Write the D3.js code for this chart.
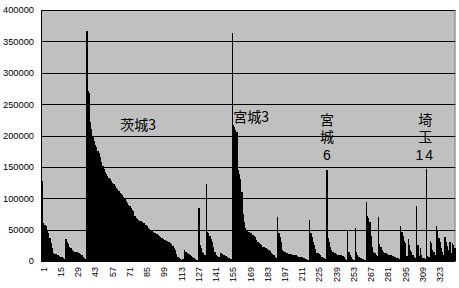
<!DOCTYPE html>
<html>
<head>
<meta charset="utf-8">
<script src="https://cdn.jsdelivr.net/npm/d3@7"></script>
<style>
  body { margin: 0; background: #fff; }
  svg { display: block; }
</style>
</head>
<body>
<div id="chart"></div>
<script>
// 1: DATA
const values = [
  127000, 61000, 58000, 55000, 50000, 45000, 36000, 28000, 21000, 13000, 11000, 10500, 10000, 9000, 8000, 7000, 6000, 5000, 3000,
  35000, 31000, 27000, 23000, 20000, 18000, 16000, 15000, 14500, 14000, 13000, 12000, 11000, 9000, 7000, 5000, 2500,
  367000,
  271000, 268000, 222000, 210000, 200000, 192000, 185000, 181000, 176000, 172000,
  165000, 158000, 152000, 147000, 142000, 139000, 136000, 133000, 130000, 128000,
  125000, 122000, 119000, 116000, 114000, 111000, 109000, 107000, 105000, 102000,
  99000, 96000, 93000, 90000, 87000, 84000, 82000, 79000, 72000, 69000,
  67000, 66000, 64000, 63000, 62000, 61000, 60000, 57000, 55000, 53000,
  51000, 49000, 48000, 46000, 45000, 44000, 43000, 42000, 40000, 38000,
  37000, 35000, 34000, 33000, 32000, 31000, 30000, 29000, 27000, 24000,
  20000, 17000, 11000, 6000, 4000, 3000, 2000,
  3000, 18000, 15000, 14000, 13000, 11000, 10000, 8000, 6000, 4000, 3000, 2000, 1500,
  85000,
  25000, 20000, 15000, 12000, 10000,
  123000,
  46000, 44000, 40000, 35000, 30000, 22000, 14000, 10000, 8000, 7000, 6000, 13000, 11000, 10000, 9000, 8000, 6000, 5000, 4000, 3000,
  363000,
  216000, 214000, 208000, 205000, 145000, 138000, 130000, 110000, 75000, 62000,
  52000, 48000, 47000, 46000, 45000, 44000, 42000, 40000, 38000, 34000,
  30000, 29000, 27000, 25000, 23000, 22000, 21000, 20000, 19000, 18000,
  16000, 13000, 11000, 9000, 7000, 5000,
  70000,
  45000, 38000, 30000, 18000, 16000, 14000, 13000, 12000, 11500, 11000, 10500, 10000, 10000, 9000, 9000, 8000, 7000, 7000, 6000, 6000, 5000, 4000, 3000, 2000, 1500,
  65000,
  45000, 38000, 30000, 25000, 19000, 13000, 12000, 11000, 9000, 7000, 5000, 4000, 3000,
  145000,
  37000, 30000, 22000, 17000, 15000, 13000, 12000, 11000, 10000, 10000, 9000, 9000, 8000, 6000, 3000, 2000,
  49000,
  15000, 10000, 6000, 3000, 2000,
  52000,
  15000, 10000, 7000, 5000, 4000, 3000, 3000, 2000,
  94000,
  72000, 68000, 62000, 40000, 22000, 15000, 12000, 10000, 8000,
  70000,
  27000, 22000, 17000, 14000, 13000, 12000, 11000, 10000, 9000, 9000, 8000, 8000, 7000, 6000, 5000, 4000, 3000,
  55000,
  47000, 40000, 32000, 28000, 8000, 35000, 25000, 18000, 14000, 10000, 7000, 4000,
  88000,
  25000, 8000, 20000, 10000, 5000, 4000, 3000,
  147000,
  8000, 6000, 32000, 28000, 18000, 15000, 10000, 56000, 50000, 37000, 30000, 20000, 14000, 10000, 38000, 30000, 24000, 18000, 30000, 12000, 28000, 26000, 20000
];
const categories = values.map((v, i) => i + 1);
const xTickLabels = categories.filter(c => (c - 1) % 14 === 0);
const yTicks = [0, 50000, 100000, 150000, 200000, 250000, 300000, 350000, 400000];

// annotations written across, placed at a category and a value (baseline)
const notes = [
  { text: "茨城3", cat: 64, val: 209000 },
  { text: "宮城3", cat: 156, val: 221000 }
];
// annotations written down: kanji column, then the number below it
const vNotes = [
  { kanji: "宮城", num: "6", cat: 232, val: 237000 },
  { kanji: "埼玉", num: "14", cat: 312, val: 237000 }
];

// 2: SIZES
const W = 459, H = 288;
const plotLeft = 42, plotRight = 455.5, plotTop = 10, plotBottom = 261;

const svg = d3.select("#chart").append("svg")
  .attr("width", W).attr("height", H);

// 3: SCALES
const x = d3.scaleBand().domain(categories).range([plotLeft, plotRight]).padding(0);
const y = d3.scaleLinear().domain([0, 400000]).range([plotBottom, plotTop]);

// plot area
svg.append("rect")
  .attr("x", plotLeft).attr("y", plotTop)
  .attr("width", plotRight - plotLeft).attr("height", plotBottom - plotTop)
  .attr("fill", "#c0c0c0");

// gridlines
svg.append("g").selectAll("line")
  .data(yTicks.slice(1))
  .enter().append("line")
  .attr("x1", plotLeft).attr("x2", plotRight)
  .attr("y1", d => Math.round(y(d)) + 0.5).attr("y2", d => Math.round(y(d)) + 0.5)
  .attr("stroke", "#000").attr("stroke-width", 1);

// right border
svg.append("line")
  .attr("x1", plotRight - 0.5).attr("x2", plotRight - 0.5)
  .attr("y1", plotTop).attr("y2", plotBottom)
  .attr("stroke", "#808080");

// 4: BARS
svg.append("g").selectAll("rect")
  .data(values)
  .enter().append("rect")
  .attr("x", (d, i) => x(categories[i]))
  .attr("width", x.bandwidth())
  .attr("y", d => y(d))
  .attr("height", d => plotBottom - y(d))
  .attr("fill", "#000")
  .attr("shape-rendering", "crispEdges");

// 5: AXES
const yAxis = svg.append("g")
  .attr("transform", `translate(${plotLeft},0)`)
  .call(d3.axisLeft(y).tickValues(yTicks).tickFormat(d3.format("d")).tickSize(0).tickPadding(8));
yAxis.select(".domain").attr("stroke", "#000").attr("d", `M-0.5,${plotTop}V${plotBottom + 0.5}`);
yAxis.selectAll("text")
  .style("font-family", "'Liberation Sans', Arial, sans-serif")
  .style("font-size", "9.3px")
  .attr("fill", "#000");

const xAxis = svg.append("g")
  .attr("transform", `translate(0,${plotBottom})`)
  .call(d3.axisBottom(x).tickValues(xTickLabels).tickSize(0).tickPadding(0));
xAxis.select(".domain").attr("stroke", "#000").attr("d", `M${plotLeft - 1},0.5H${plotRight}`);
xAxis.selectAll("text")
  .style("font-family", "'Liberation Sans', Arial, sans-serif")
  .style("font-size", "9px")
  .attr("fill", "#000")
  .attr("transform", "rotate(-90)")
  .attr("x", -6)
  .attr("y", 1)
  .attr("dy", "0.35em")
  .style("text-anchor", "end");

// 6: ANNOTATIONS
notes.forEach(n => {
  svg.append("text")
    .attr("x", x(n.cat) + x.bandwidth() / 2)
    .attr("y", y(n.val))
    .style("font-family", "'Noto Sans CJK JP', sans-serif")
    .style("font-size", "14px")
    .attr("fill", "#000")
    .text(n.text);
});

vNotes.forEach(n => {
  const cx = x(n.cat) + x.bandwidth() / 2;
  const y0 = y(n.val);
  // kanji stacked in one vertical text
  svg.append("text")
    .attr("x", cx)
    .attr("y", y0)
    .style("writing-mode", "vertical-rl")
    .style("font-family", "'Noto Sans CJK JP', sans-serif")
    .style("font-size", "14px")
    .style("letter-spacing", "3px")
    .attr("fill", "#000")
    .text(n.kanji);
  // number under the column
  svg.append("text")
    .attr("x", cx)
    .attr("y", y0 + 48)
    .attr("text-anchor", "middle")
    .style("font-family", "'Liberation Sans', Arial, sans-serif")
    .style("font-size", "14px")
    .style("letter-spacing", n.num.length > 1 ? "2px" : null)
    .attr("fill", "#000")
    .text(n.num);
});
</script>
</body>
</html>
